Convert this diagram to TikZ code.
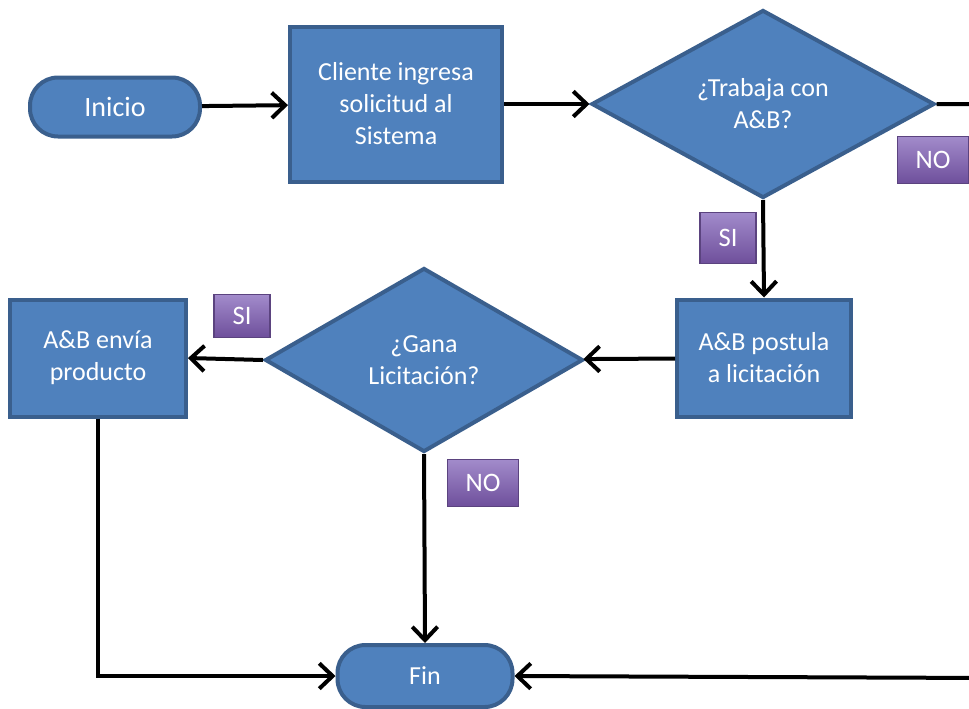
\documentclass[tikz,border=0pt]{standalone}
\usepackage{fontspec}
\setmainfont{Carlito}
\usetikzlibrary{shapes.geometric,arrows.meta}
\definecolor{boxfill}{HTML}{4F81BD}
\definecolor{boxline}{HTML}{3A5F8D}
\definecolor{tagtop}{HTML}{A28BCB}
\definecolor{tagbot}{HTML}{6E4F9B}
\definecolor{tagline}{HTML}{5B437F}
\tikzset{
  base/.style={fill=boxfill, draw=boxline, line width=3pt, text=white,
    font=\fontsize{19.5}{24}\selectfont, align=center, inner sep=0pt},
  process/.style={base, rectangle},
  terminal/.style={base, rectangle, rounded corners=21pt},
  decision/.style={base, diamond},
  tag/.style={rectangle, top color=tagtop, bottom color=tagbot, draw=tagline,
    line width=0.8pt, text=white, font=\fontsize{20}{24}\selectfont, inner sep=0pt},
  flow/.style={line width=3pt, draw=black},
  arrow/.style={flow, -{Straight Barb[length=10pt, width=19pt]}},
}
\begin{document}
\begin{tikzpicture}[x=0.75pt, y=-0.75pt]
\useasboundingbox (0,0) rectangle (969,708);

% main flow nodes
\node[terminal, minimum width=127.5pt, minimum height=44.25pt,
      font=\fontsize{21}{25}\selectfont] (inicio) at (115,107) {Inicio};
\node[process, minimum width=159pt, minimum height=116.25pt] (cliente) at (396,104)
  {Cliente ingresa\\solicitud al\\Sistema};
\node[decision, minimum width=257.25pt, minimum height=141pt] (trabaja) at (763,104)
  {¿Trabaja con\\A\&B?};
\node[process, minimum width=130.5pt, minimum height=87.75pt] (postula) at (764,358)
  {A\&B postula\\a licitación};
\node[decision, minimum width=238.5pt, minimum height=138pt] (gana) at (424,360)
  {¿Gana\\Licitación?};
\node[process, minimum width=132pt, minimum height=87.75pt] (envia) at (98,358)
  {A\&B envía\\producto};
\node[terminal, minimum width=131.25pt, minimum height=46.5pt] (fin) at (425,676) {Fin};

% branch labels
\node[tag, minimum width=53.25pt, minimum height=35.25pt] (no1) at (933,160) {NO};
\node[tag, minimum width=42pt, minimum height=38.25pt] (si1) at (728,238) {SI};
\node[tag, minimum width=42pt, minimum height=32pt] (si2) at (242,316) {SI};
\node[tag, minimum width=53.25pt, minimum height=35.25pt] (no2) at (483,483) {NO};

% return path along the right side
\coordinate (rtop) at (990,104);
\coordinate (rbot) at (990,678);

% connectors
\draw[arrow] (inicio) -- (cliente);
\draw[arrow] (cliente) -- (trabaja);
\draw[arrow] (trabaja.south) -- (postula.north);
\draw[arrow] (postula) -- (gana);
\draw[arrow] (gana.west) -- (envia.east);
\draw[arrow] (gana.south) -- (fin.north);
\draw[arrow] (envia.south) |- (fin.west);
\draw[arrow] (trabaja.east) -- (rtop) -- (rbot) -- (fin.east);
\end{tikzpicture}
\end{document}
